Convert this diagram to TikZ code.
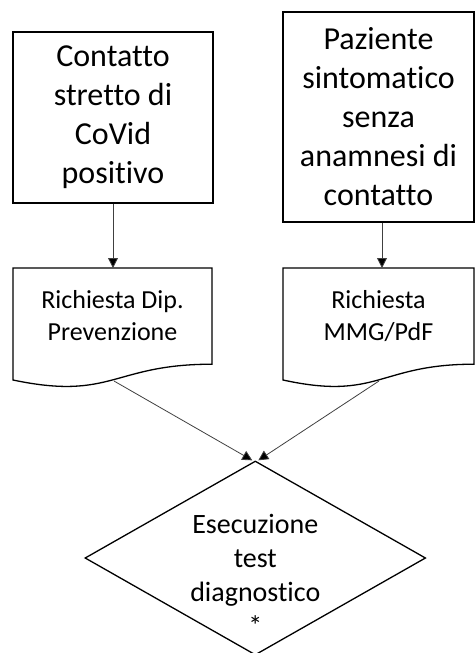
\documentclass[tikz,border=0pt]{standalone}
\usepackage{fontspec}
\setmainfont[Ligatures=NoCommon]{Carlito}
\usetikzlibrary{arrows.meta,shapes.geometric}
\begin{document}
\begin{tikzpicture}[x=1pt,y=-1pt,
    box/.style={draw,line width=1.3pt,align=center,inner sep=0pt,
        font=\fontsize{32}{39}\selectfont},
    doctext/.style={align=center,inner sep=0pt,
        font=\fontsize{26}{32}\selectfont},
    decision/.style={draw,diamond,line width=1.3pt,inner sep=0pt,
        minimum width=340.7pt,minimum height=194pt},
    conn/.style={draw=black!75,line width=0.8pt,
        -{Triangle[width=10pt,length=10pt,fill=black]}}]
        \useasboundingbox (0,0) rectangle (475,653);

        %top boxes
        \node [box,minimum width=200pt,minimum height=171pt] (contact) at (113,117.5)
            {Contatto\\stretto di\\CoVid\\positivo};
        \node [box,minimum width=191pt,minimum height=210pt] (patient) at (378.5,117)
            {Paziente\\sintomatico\\senza\\anamnesi di\\contatto};

        %left document
        \draw [line width=1.3pt] (13,268) -- (212,268) -- (212,364.2)
            .. controls (112.5,364.2) and (112.5,400.9) .. (13,380) -- cycle;
        \coordinate (reqdiptop) at (113,268);
        \coordinate (reqdiplow) at (114,381);
        \node [doctext] (reqdip) at (112.5,315.6) {Richiesta Dip.\\Prevenzione};

        %right document
        \draw [line width=1.3pt] (283,268) -- (474,268) -- (474,364.2)
            .. controls (378.5,364.2) and (378.5,400.9) .. (283,380) -- cycle;
        \coordinate (reqmmgtop) at (382,268);
        \coordinate (reqmmglow) at (379,381);
        \node [doctext] (reqmmg) at (378.5,316.5) {Richiesta\\MMG/PdF};

        %decision
        \node [decision] (test) at (255.3,558) {};
        \node [align=center,inner sep=0pt,font=\fontsize{28}{34.2}\selectfont]
            (testlabel) at (255.3,575) {Esecuzione\\test\\diagnostico\\*};

        %connectors
        \draw [conn] (contact.south) -- (reqdiptop);
        \draw [conn] (patient.south -| reqmmgtop) -- (reqmmgtop);
        \draw [conn] (reqdiplow) -- ([xshift=-3pt]test.north);
        \draw [conn] (reqmmglow) -- ([xshift=3pt]test.north);
    \end{tikzpicture}
\end{document}
